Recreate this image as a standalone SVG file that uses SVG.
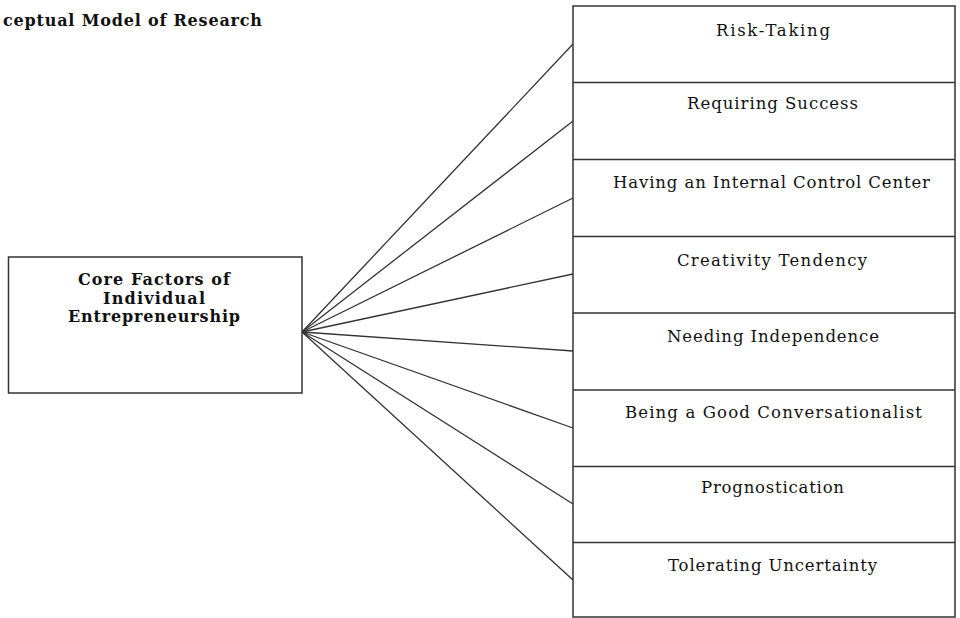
<svg xmlns="http://www.w3.org/2000/svg" width="960" height="618" viewBox="0 0 960 618">
<style>
.box{fill:#fff;stroke:#333;stroke-width:1.5}
.div{stroke:#333;stroke-width:1.5}
.con{stroke:#333;stroke-width:1.3;fill:none}
.lbl{font-family:"DejaVu Serif","Liberation Serif",serif;font-size:16.5px;fill:#111}
.bold{font-family:"DejaVu Serif","Liberation Serif",serif;font-size:16px;font-weight:bold;fill:#111}
</style>
<rect width="960" height="618" fill="#fff"/>
<text class="bold" x="3" y="26" textLength="259" lengthAdjust="spacing">ceptual Model of Research</text>
<g id="connectors">
<line class="con" x1="302" y1="332" x2="573" y2="44"/>
<line class="con" x1="302" y1="332" x2="573" y2="121"/>
<line class="con" x1="302" y1="332" x2="573" y2="198"/>
<line class="con" x1="302" y1="332" x2="573" y2="274"/>
<line class="con" x1="302" y1="332" x2="573" y2="351"/>
<line class="con" x1="302" y1="332" x2="573" y2="428"/>
<line class="con" x1="302" y1="332" x2="573" y2="504"/>
<line class="con" x1="302" y1="332" x2="573" y2="580"/>
</g>
<g id="core">
<rect class="box" x="8.5" y="257" width="293.5" height="136"/>
<text class="bold" x="78" y="285" textLength="152" lengthAdjust="spacing">Core Factors of</text>
<text class="bold" x="103" y="304" textLength="102" lengthAdjust="spacing">Individual</text>
<text class="bold" x="68" y="322" textLength="172" lengthAdjust="spacing">Entrepreneurship</text>
</g>
<g id="factors">
<rect class="box" x="573" y="6" width="382" height="611"/>
<line class="div" x1="573" y1="82.5" x2="955" y2="82.5"/>
<line class="div" x1="573" y1="159.5" x2="955" y2="159.5"/>
<line class="div" x1="573" y1="236.5" x2="955" y2="236.5"/>
<line class="div" x1="573" y1="313" x2="955" y2="313"/>
<line class="div" x1="573" y1="390" x2="955" y2="390"/>
<line class="div" x1="573" y1="466.5" x2="955" y2="466.5"/>
<line class="div" x1="573" y1="542.5" x2="955" y2="542.5"/>
</g>
<g id="risk-taking"><text class="lbl" x="716" y="36" textLength="114" lengthAdjust="spacing">Risk-Taking</text></g>
<g id="requiring-success"><text class="lbl" x="687" y="109" textLength="171" lengthAdjust="spacing">Requiring Success</text></g>
<g id="internal-control"><text class="lbl" x="613" y="188" textLength="317" lengthAdjust="spacing">Having an Internal Control Center</text></g>
<g id="creativity"><text class="lbl" x="677" y="266" textLength="190" lengthAdjust="spacing">Creativity Tendency</text></g>
<g id="independence"><text class="lbl" x="667" y="342" textLength="212" lengthAdjust="spacing">Needing Independence</text></g>
<g id="conversationalist"><text class="lbl" x="625" y="418" textLength="297" lengthAdjust="spacing">Being a Good Conversationalist</text></g>
<g id="prognostication"><text class="lbl" x="701" y="493" textLength="143" lengthAdjust="spacing">Prognostication</text></g>
<g id="uncertainty"><text class="lbl" x="668" y="571" textLength="209" lengthAdjust="spacing">Tolerating Uncertainty</text></g>
</svg>
